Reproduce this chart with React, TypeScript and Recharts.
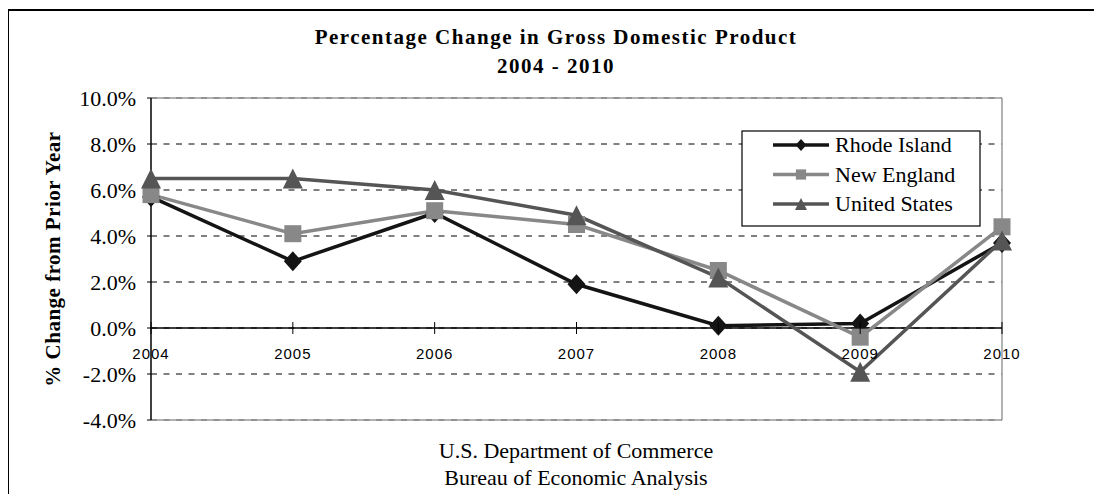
import React from "react";
import {
  LineChart,
  Line,
  XAxis,
  YAxis,
  CartesianGrid,
  ReferenceLine,
} from "recharts";

const years = ["2004", "2005", "2006", "2007", "2008", "2009", "2010"];
const rhodeIsland = [5.7, 2.9, 5.0, 1.9, 0.1, 0.2, 3.7];
const newEngland = [5.8, 4.1, 5.1, 4.5, 2.5, -0.4, 4.4];
const unitedStates = [6.5, 6.5, 6.0, 4.9, 2.2, -1.9, 3.8];
const yTicks = [-4, -2, 0, 2, 4, 6, 8, 10];

const titleLines = ["Percentage Change in Gross Domestic Product", "2004 - 2010"];
const yLabel = "% Change from Prior Year";
const sourceLines = ["U.S. Department of Commerce", "Bureau of Economic Analysis"];

const series = [
  { key: "ri", name: "Rhode Island", color: "#141414", shape: "diamond" },
  { key: "ne", name: "New England", color: "#888888", shape: "square" },
  { key: "us", name: "United States", color: "#555555", shape: "triangle" },
];

const data = years.map((year, i) => ({
  year,
  ri: rhodeIsland[i],
  ne: newEngland[i],
  us: unitedStates[i],
}));

const W = 1094;
const H = 486;
const xAxisHeight = 30;
const margin = { top: 90, right: 100, bottom: H - 412 - xAxisHeight, left: 63 };
const yAxisWidth = 80;
const plotTop = margin.top;
const plotH = H - margin.top - margin.bottom - xAxisHeight;
const yMin = -4;
const yMax = 10;
const zeroY = plotTop + (plotH * (yMax - 0)) / (yMax - yMin);

const serif = "Liberation Serif";

function marker(shape: string, color: string, cx: number, cy: number, s = 1, key?: string) {
  if (shape === "diamond") {
    const w = 9 * s;
    const h = 10 * s;
    return (
      <path
        key={key}
        d={`M${cx},${cy - h}L${cx + w},${cy}L${cx},${cy + h}L${cx - w},${cy}Z`}
        fill={color}
      />
    );
  }
  if (shape === "square") {
    const a = 8.5 * s;
    return <rect key={key} x={cx - a} y={cy - a} width={a * 2} height={a * 2} fill={color} />;
  }
  const w = 10 * s;
  const h = 10 * s;
  return (
    <path
      key={key}
      d={`M${cx},${cy - h}L${cx + w},${cy + h}L${cx - w},${cy + h}Z`}
      fill={color}
    />
  );
}

const makeDot = (shape: string, color: string) => (props: any) => {
  const { cx, cy, index } = props;
  if (cx == null || cy == null) return <g key={`d-${index}`} />;
  return marker(shape, color, cx, cy, 1, `d-${shape}-${index}`);
};

const XTick = (props: any) => {
  const { x, payload } = props;
  return (
    <g>
      <line x1={x} x2={x} y1={zeroY - 6} y2={zeroY + 6} stroke="#000" />
      <text
        x={x}
        y={zeroY + 31}
        textAnchor="middle"
        style={{ fontFamily: "Liberation Sans", fontSize: 15, letterSpacing: 1 }}
        fill="#000"
      >
        {payload.value}
      </text>
    </g>
  );
};

export default function App() {
  const legendLeft = 734;
  const legendTop = 123;
  return (
    <div style={{ position: "relative", width: W, height: H, fontFamily: serif }}>
      <div
        style={{
          position: "absolute",
          left: -1,
          top: 1,
          width: W + 20,
          height: H + 20,
          borderLeft: "2px solid #000",
          borderTop: "2px solid #000",
        }}
      />
      <LineChart width={W} height={H} data={data} margin={margin} style={{ fontFamily: serif }}>
        <CartesianGrid vertical={false} stroke="#000" strokeDasharray="6 6.5" />
        <XAxis
          dataKey="year"
          height={xAxisHeight}
          interval={0}
          axisLine={{ stroke: "#999", strokeWidth: 1.5 }}
          tickLine={false}
          tick={<XTick />}
        />
        <YAxis
          width={yAxisWidth}
          domain={[yMin, yMax]}
          ticks={yTicks}
          interval={0}
          tickFormatter={(v: number) => `${v.toFixed(1)}%`}
          tick={{ fontSize: 22, fill: "#000", style: { fontFamily: serif } }}
          axisLine={{ stroke: "#000", strokeWidth: 1.5 }}
          tickLine={{ stroke: "#000" }}
          tickSize={4}
          tickMargin={11}
        />
        <ReferenceLine y={10} stroke="#999" strokeWidth={1.5} />
        <ReferenceLine x="2010" stroke="#999" strokeWidth={1.5} />
        <ReferenceLine y={0} stroke="#000" strokeWidth={1.5} />
        {series.map((s) => (
          <Line
            key={s.key}
            type="linear"
            dataKey={s.key}
            name={s.name}
            stroke={s.color}
            strokeWidth={3.5}
            dot={makeDot(s.shape, s.color)}
            activeDot={false}
            isAnimationActive={false}
          />
        ))}
      </LineChart>
      <svg
        width={W}
        height={H}
        style={{ position: "absolute", left: 0, top: 0, pointerEvents: "none", fontFamily: serif }}
      >
        <text
          x={548}
          y={36}
          textAnchor="middle"
          fontWeight="bold"
          fontSize={21}
          letterSpacing={1.5}
        >
          {titleLines[0]}
        </text>
        <text
          x={548}
          y={65}
          textAnchor="middle"
          fontWeight="bold"
          fontSize={21}
          letterSpacing={1.5}
        >
          {titleLines[1]}
        </text>
        <text
          x={0}
          y={0}
          transform="translate(52,251) rotate(-90)"
          textAnchor="middle"
          fontWeight="bold"
          fontSize={21}
          letterSpacing={0.5}
        >
          {yLabel}
        </text>
        {sourceLines.map((t, i) => (
          <text key={t} x={568} y={450 + i * 27} textAnchor="middle" fontSize={22}>
            {t}
          </text>
        ))}
        <rect
          x={legendLeft}
          y={legendTop}
          width={238}
          height={95}
          fill="#fff"
          stroke="#000"
          strokeWidth={1.2}
        />
        {series.map((s, i) => {
          const cy = legendTop + 14 + i * 29.5;
          return (
            <g key={s.key}>
              <line
                x1={legendLeft + 31}
                x2={legendLeft + 87}
                y1={cy}
                y2={cy}
                stroke={s.color}
                strokeWidth={3.5}
              />
              {marker(s.shape, s.color, legendLeft + 59, cy, 0.6)}
              <text x={legendLeft + 93} y={cy + 7} fontSize={22} fill="#000">
                {s.name}
              </text>
            </g>
          );
        })}
      </svg>
    </div>
  );
}
